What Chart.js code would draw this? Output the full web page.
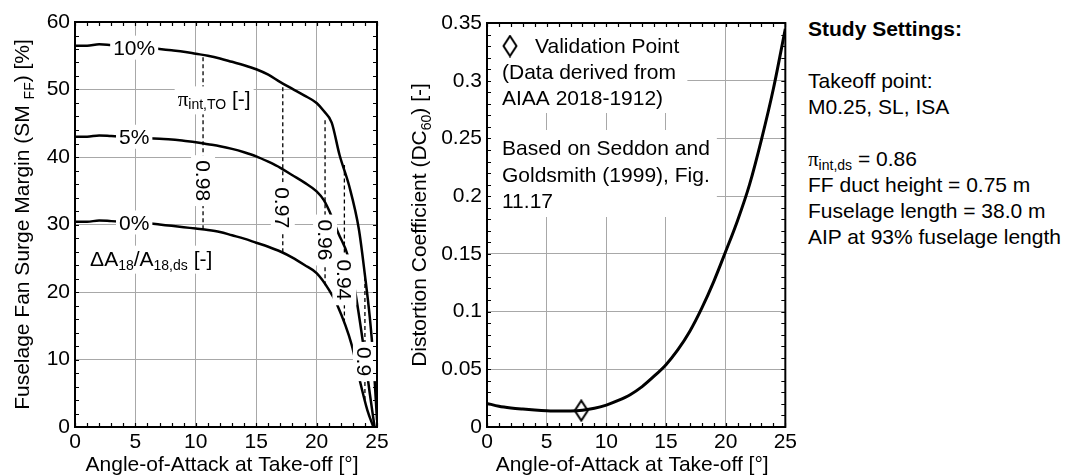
<!DOCTYPE html>
<html>
<head>
<meta charset="utf-8">
<script src="https://cdn.jsdelivr.net/npm/chart.js@4"></script>
<style>
  body { margin: 0; background: #fff; width: 1073px; height: 475px; overflow: hidden; position: relative; }
  #c1 { position: absolute; left: 0; top: 0; }
  #c2 { position: absolute; left: 400px; top: 0; }
  #settings { position: absolute; left: 808px; top: 16px; font: 21px/26px "Liberation Sans", Arial, sans-serif; white-space: nowrap; color: #000; }
  #settings sub { font-size: 14px; line-height: 0; vertical-align: -4px; }
  #settings .pi { font-family: "Liberation Serif", "Times New Roman", serif; }
</style>
</head>
<body>
<canvas id="c1" width="400" height="475"></canvas>
<canvas id="c2" width="400" height="475"></canvas>
<div id="settings">
  <b>Study Settings:</b><br><br>
  Takeoff point:<br>
  M0.25, SL, ISA<br><br>
  <span class="pi">π</span><sub>int,ds</sub> = 0.86<br>
  FF duct height = 0.75 m<br>
  Fuselage length = 38.0 m<br>
  AIP at 93% fuselage length
</div>
<script>
// ---- left chart: surge margin vs angle of attack, one curve per nozzle area change
const seriesNames = ["10%", "5%", "0%"];
const aoa10 = [0, 1, 2, 3, 4, 5, 6, 7, 8, 9, 10, 11, 12, 13, 14, 15, 16, 17, 18, 19, 20, 20.6, 21.25, 21.9, 22.7, 23.5, 24.0, 24.4, 24.7, 25];
const sm10 = [56.5, 56.5, 56.7, 56.6, 56.5, 56.3, 56.2, 56.0, 55.8, 55.6, 55.3, 55.0, 54.6, 54.1, 53.6, 53.0, 52.2, 51.1, 50.1, 49.1, 48.0, 46.8, 45.1, 40.3, 35.7, 29.3, 22.5, 16.3, 10, 1];
const aoa5 = [0, 1, 2, 3, 4, 5, 6, 7, 8, 9, 10, 11, 12, 13, 14, 15, 16, 17, 18, 19, 20, 20.6, 21.25, 21.8, 22.6, 23.2, 23.8, 24.4, 24.8];
const sm5 = [43.0, 43.0, 43.2, 43.1, 43.0, 42.9, 42.8, 42.7, 42.6, 42.4, 42.2, 41.9, 41.6, 41.2, 40.7, 40.1, 39.3, 38.4, 37.3, 36.2, 34.9, 33.6, 31.2, 28.7, 25.3, 20, 13, 5, 0];
const aoa0 = [0, 1, 2, 3, 4, 5, 6, 7, 8, 9, 10, 11, 12, 13, 14, 15, 16, 17, 18, 19, 20, 21, 21.7, 22.9, 23.6, 24.2, 24.7];
const sm0 = [30.4, 30.4, 30.6, 30.5, 30.4, 30.3, 30.2, 30.0, 29.8, 29.6, 29.4, 29.2, 28.9, 28.4, 27.9, 27.3, 26.7, 26.0, 25.1, 24.0, 22.8, 20.4, 18.1, 12.2, 6.7, 2.5, 0];
const curveLabelY = [56.2, 43.0, 30.3];

// constant intake pressure recovery lines
const contourLevels = ["0.98", "0.97", "0.96", "0.94", "0.9"];
const contourAoA = [10.6, 17.2, 20.7, 22.3, 24.0];
const contourLow = [29.3, 25.9, 21.0, 15.5, 4.0];
const contourHigh = [54.9, 50.8, 45.6, 38.8, 22.5];
const contourLabelY = [36.5, 32.5, 27.7, 21.8, 9.7];

// ---- right chart: distortion coefficient
const dcAoA = [0, 1, 2, 3, 4, 5, 6, 7, 8, 9, 10, 11, 12, 13, 14, 15, 16, 17, 18, 19, 20, 21, 22, 23, 24, 25];
const dc = [0.0205, 0.018, 0.0165, 0.0155, 0.0147, 0.0141, 0.0138, 0.0139, 0.0146, 0.0162, 0.019, 0.023, 0.028, 0.035, 0.044, 0.054, 0.067, 0.083, 0.103, 0.126, 0.152, 0.179, 0.21, 0.249, 0.293, 0.345];
const validationAoA = [7.9];
const validationDC = [0.0142];

const FAMILY = '"Liberation Sans", Arial, sans-serif';
const MAIN = "21px " + FAMILY;
const SUB = "14px " + FAMILY;
const SYM = '21px "Liberation Serif", "Times New Roman", serif';

const pts = (xs, ys) => xs.map((v, i) => ({ x: v, y: ys[i] }));

function partsWidth(ctx, parts) {
  let w = 0;
  parts.forEach(p => { ctx.font = p.f; w += ctx.measureText(p.t).width; });
  return w;
}
function drawParts(ctx, parts, x, y) {
  parts.forEach(p => {
    ctx.font = p.f;
    ctx.fillText(p.t, x, y + (p.dy || 0));
    x += ctx.measureText(p.t).width;
  });
}
// centred label on a white box, optionally rotated
function boxText(ctx, parts, cx, cy, rot, padX, padY) {
  const w = partsWidth(ctx, parts);
  ctx.save();
  ctx.translate(cx, cy);
  ctx.rotate(rot);
  ctx.fillStyle = "#fff";
  ctx.fillRect(-w / 2 - padX, -9 - padY, w + 2 * padX, 18 + 2 * padY);
  ctx.fillStyle = "#000";
  ctx.textBaseline = "alphabetic";
  drawParts(ctx, parts, -w / 2, 7.5);
  ctx.restore();
}
// left anchored label on a white box
function boxTextLeft(ctx, parts, left, base, pad) {
  const w = partsWidth(ctx, parts);
  ctx.fillStyle = "#fff";
  ctx.fillRect(left - pad, base - 17 - pad, w + 2 * pad, 22 + 2 * pad);
  ctx.fillStyle = "#000";
  ctx.textBaseline = "alphabetic";
  drawParts(ctx, parts, left, base);
}

function framePlugin(xMinor, yMinor, xTitle, yTitle, yTitleX) {
  return {
    id: "frame",
    afterDraw(chart) {
      const { ctx, chartArea: a, scales: { x, y } } = chart;
      ctx.save();
      ctx.strokeStyle = "#000";
      ctx.lineWidth = 1.2;
      ctx.beginPath();
      for (let v = x.min; v <= x.max + 1e-9; v += xMinor) {
        const px = Math.round(x.getPixelForValue(v)) + 0.5;
        ctx.moveTo(px, a.bottom); ctx.lineTo(px, a.bottom - 4);
        ctx.moveTo(px, a.top); ctx.lineTo(px, a.top + 4);
      }
      for (let v = y.min; v <= y.max + 1e-9; v += yMinor) {
        const py = Math.round(y.getPixelForValue(v)) + 0.5;
        ctx.moveTo(a.left, py); ctx.lineTo(a.left + 4, py);
        ctx.moveTo(a.right, py); ctx.lineTo(a.right - 4, py);
      }
      ctx.stroke();
      ctx.lineWidth = 2;
      ctx.strokeRect(a.left, a.top, a.right - a.left, a.bottom - a.top);

      ctx.fillStyle = "#000";
      ctx.textBaseline = "alphabetic";
      const xw = partsWidth(ctx, xTitle);
      drawParts(ctx, xTitle, (a.left + a.right) / 2 - 4 - xw / 2, 471);
      const yw = partsWidth(ctx, yTitle);
      ctx.translate(yTitleX, (a.top + a.bottom) / 2);
      ctx.rotate(-Math.PI / 2);
      drawParts(ctx, yTitle, -yw / 2, 0);
      ctx.restore();
    }
  };
}

const leftAnnotations = {
  id: "leftAnnotations",
  afterDatasetsDraw(chart) {
    const { ctx, scales: { x, y } } = chart;
    ctx.save();
    seriesNames.forEach((name, i) => {
      boxText(ctx, [{ t: name, f: MAIN }], x.getPixelForValue(4.9), y.getPixelForValue(curveLabelY[i]), 0, 3, 3);
    });
    contourLevels.forEach((lv, i) => {
      boxText(ctx, [{ t: lv, f: MAIN }], x.getPixelForValue(contourAoA[i]), y.getPixelForValue(contourLabelY[i]), Math.PI / 2, 5, 3);
    });
    boxTextLeft(ctx, [
      { t: "π", f: SYM }, { t: "int,TO", f: SUB, dy: 3 }, { t: " [-]", f: MAIN }
    ], x.getPixelForValue(8.5), y.getPixelForValue(47.5), 3);
    boxTextLeft(ctx, [
      { t: "ΔA", f: MAIN }, { t: "18", f: SUB, dy: 4 }, { t: "/A", f: MAIN },
      { t: "18,ds", f: SUB, dy: 4 }, { t: " [-]", f: MAIN }
    ], x.getPixelForValue(1.25), y.getPixelForValue(23.9), 3);
    ctx.restore();
  }
};

// tall diamond used for the validation point and its key
const diamond = document.createElement("canvas");
diamond.width = 16; diamond.height = 23;
(function () {
  const d = diamond.getContext("2d");
  d.beginPath();
  d.moveTo(8, 1.5); d.lineTo(14.5, 11.5); d.lineTo(8, 21.5); d.lineTo(1.5, 11.5); d.closePath();
  d.fillStyle = "#fff"; d.fill();
  d.lineWidth = 2; d.strokeStyle = "#000"; d.stroke();
})();

const rightAnnotations = {
  id: "rightAnnotations",
  afterDatasetsDraw(chart) {
    const { ctx, chartArea: a } = chart;
    ctx.save();
    const left = a.left + 15;
    const block1 = ["(Data derived from", "AIAA 2018-1912)"];
    const block2 = ["Based on Seddon and", "Goldsmith (1999), Fig.", "11.17"];
    ctx.font = MAIN;
    const w1 = Math.max(ctx.measureText("Validation Point").width + 33, ...block1.map(s => ctx.measureText(s).width));
    const w2 = Math.max(...block2.map(s => ctx.measureText(s).width));
    ctx.fillStyle = "#fff";
    ctx.fillRect(a.left + 1, a.top + 1, left + w1 + 7 - a.left, 112 - a.top);
    ctx.fillRect(a.left + 1, 130, left + w2 + 6 - a.left, 87);
    ctx.fillStyle = "#000";
    ctx.textBaseline = "alphabetic";
    ctx.drawImage(diamond, a.left + 23 - 8, 46 - 11.5);
    ctx.fillText("Validation Point", left + 33, 53);
    block1.forEach((s, i) => ctx.fillText(s, left, 79 + 26 * i));
    block2.forEach((s, i) => ctx.fillText(s, left, 155 + 26.5 * i));
    ctx.restore();
  }
};

const gridOpts = { color: "#a8a8a8", lineWidth: 1, drawTicks: false };
const tickFont = { family: FAMILY, size: 21 };

new Chart(document.getElementById("c1"), {
  type: "scatter",
  data: {
    datasets: [
      ...contourLevels.map((lv, i) => ({
        data: [{ x: contourAoA[i], y: contourLow[i] }, { x: contourAoA[i], y: contourHigh[i] }],
        showLine: true, borderColor: "#000", borderWidth: 1.3, borderDash: [4, 3], pointRadius: 0
      })),
      ...[[aoa10, sm10], [aoa5, sm5], [aoa0, sm0]].map(([xs, ys]) => ({
        data: pts(xs, ys), showLine: true, borderColor: "#000", borderWidth: 2.5,
        pointRadius: 0, cubicInterpolationMode: "monotone"
      }))
    ]
  },
  options: {
    responsive: false, animation: false,
    layout: { padding: { top: 22, right: 23, left: 0, bottom: 0 } },
    plugins: { legend: { display: false }, tooltip: { enabled: false } },
    scales: {
      x: {
        type: "linear", min: 0, max: 25,
        ticks: { stepSize: 5, color: "#000", font: tickFont, padding: 3, maxRotation: 0 },
        grid: gridOpts, border: { display: false },
        afterFit(s) { s.height = 48; }
      },
      y: {
        min: 0, max: 60,
        ticks: { stepSize: 10, color: "#000", font: tickFont, padding: 5 },
        grid: gridOpts, border: { display: false },
        afterFit(s) { s.width = 75; }
      }
    }
  },
  plugins: [leftAnnotations, framePlugin(1, 2,
    [{ t: "Angle-of-Attack at Take-off [°]", f: MAIN }],
    [{ t: "Fuselage Fan Surge Margin (SM ", f: MAIN }, { t: "FF", f: SUB, dy: 5 }, { t: ") [%]", f: MAIN }],
    28.5)]
});

new Chart(document.getElementById("c2"), {
  type: "scatter",
  data: {
    datasets: [
      {
        data: pts(dcAoA, dc), showLine: true, borderColor: "#000", borderWidth: 3,
        pointRadius: 0, cubicInterpolationMode: "monotone"
      },
      {
        data: pts(validationAoA, validationDC), showLine: false,
        pointStyle: diamond, pointRadius: 8
      }
    ]
  },
  options: {
    responsive: false, animation: false,
    layout: { padding: { top: 23, right: 13, left: 0, bottom: 0 } },
    plugins: { legend: { display: false }, tooltip: { enabled: false } },
    scales: {
      x: {
        type: "linear", min: 0, max: 25,
        ticks: { stepSize: 5, color: "#000", font: tickFont, padding: 3, maxRotation: 0 },
        grid: gridOpts, border: { display: false },
        afterFit(s) { s.height = 48; }
      },
      y: {
        min: 0, max: 0.35,
        ticks: {
          stepSize: 0.05, color: "#000", font: tickFont, padding: 5,
          callback: v => String(Number(v.toFixed(2)))
        },
        grid: gridOpts, border: { display: false },
        afterFit(s) { s.width = 87; }
      }
    }
  },
  plugins: [rightAnnotations, framePlugin(1, 0.01,
    [{ t: "Angle-of-Attack at Take-off [°]", f: MAIN }],
    [{ t: "Distortion Coefficient (DC", f: MAIN }, { t: "60", f: SUB, dy: 5 }, { t: ") [-]", f: MAIN }],
    26)]
});
</script>
</body>
</html>
